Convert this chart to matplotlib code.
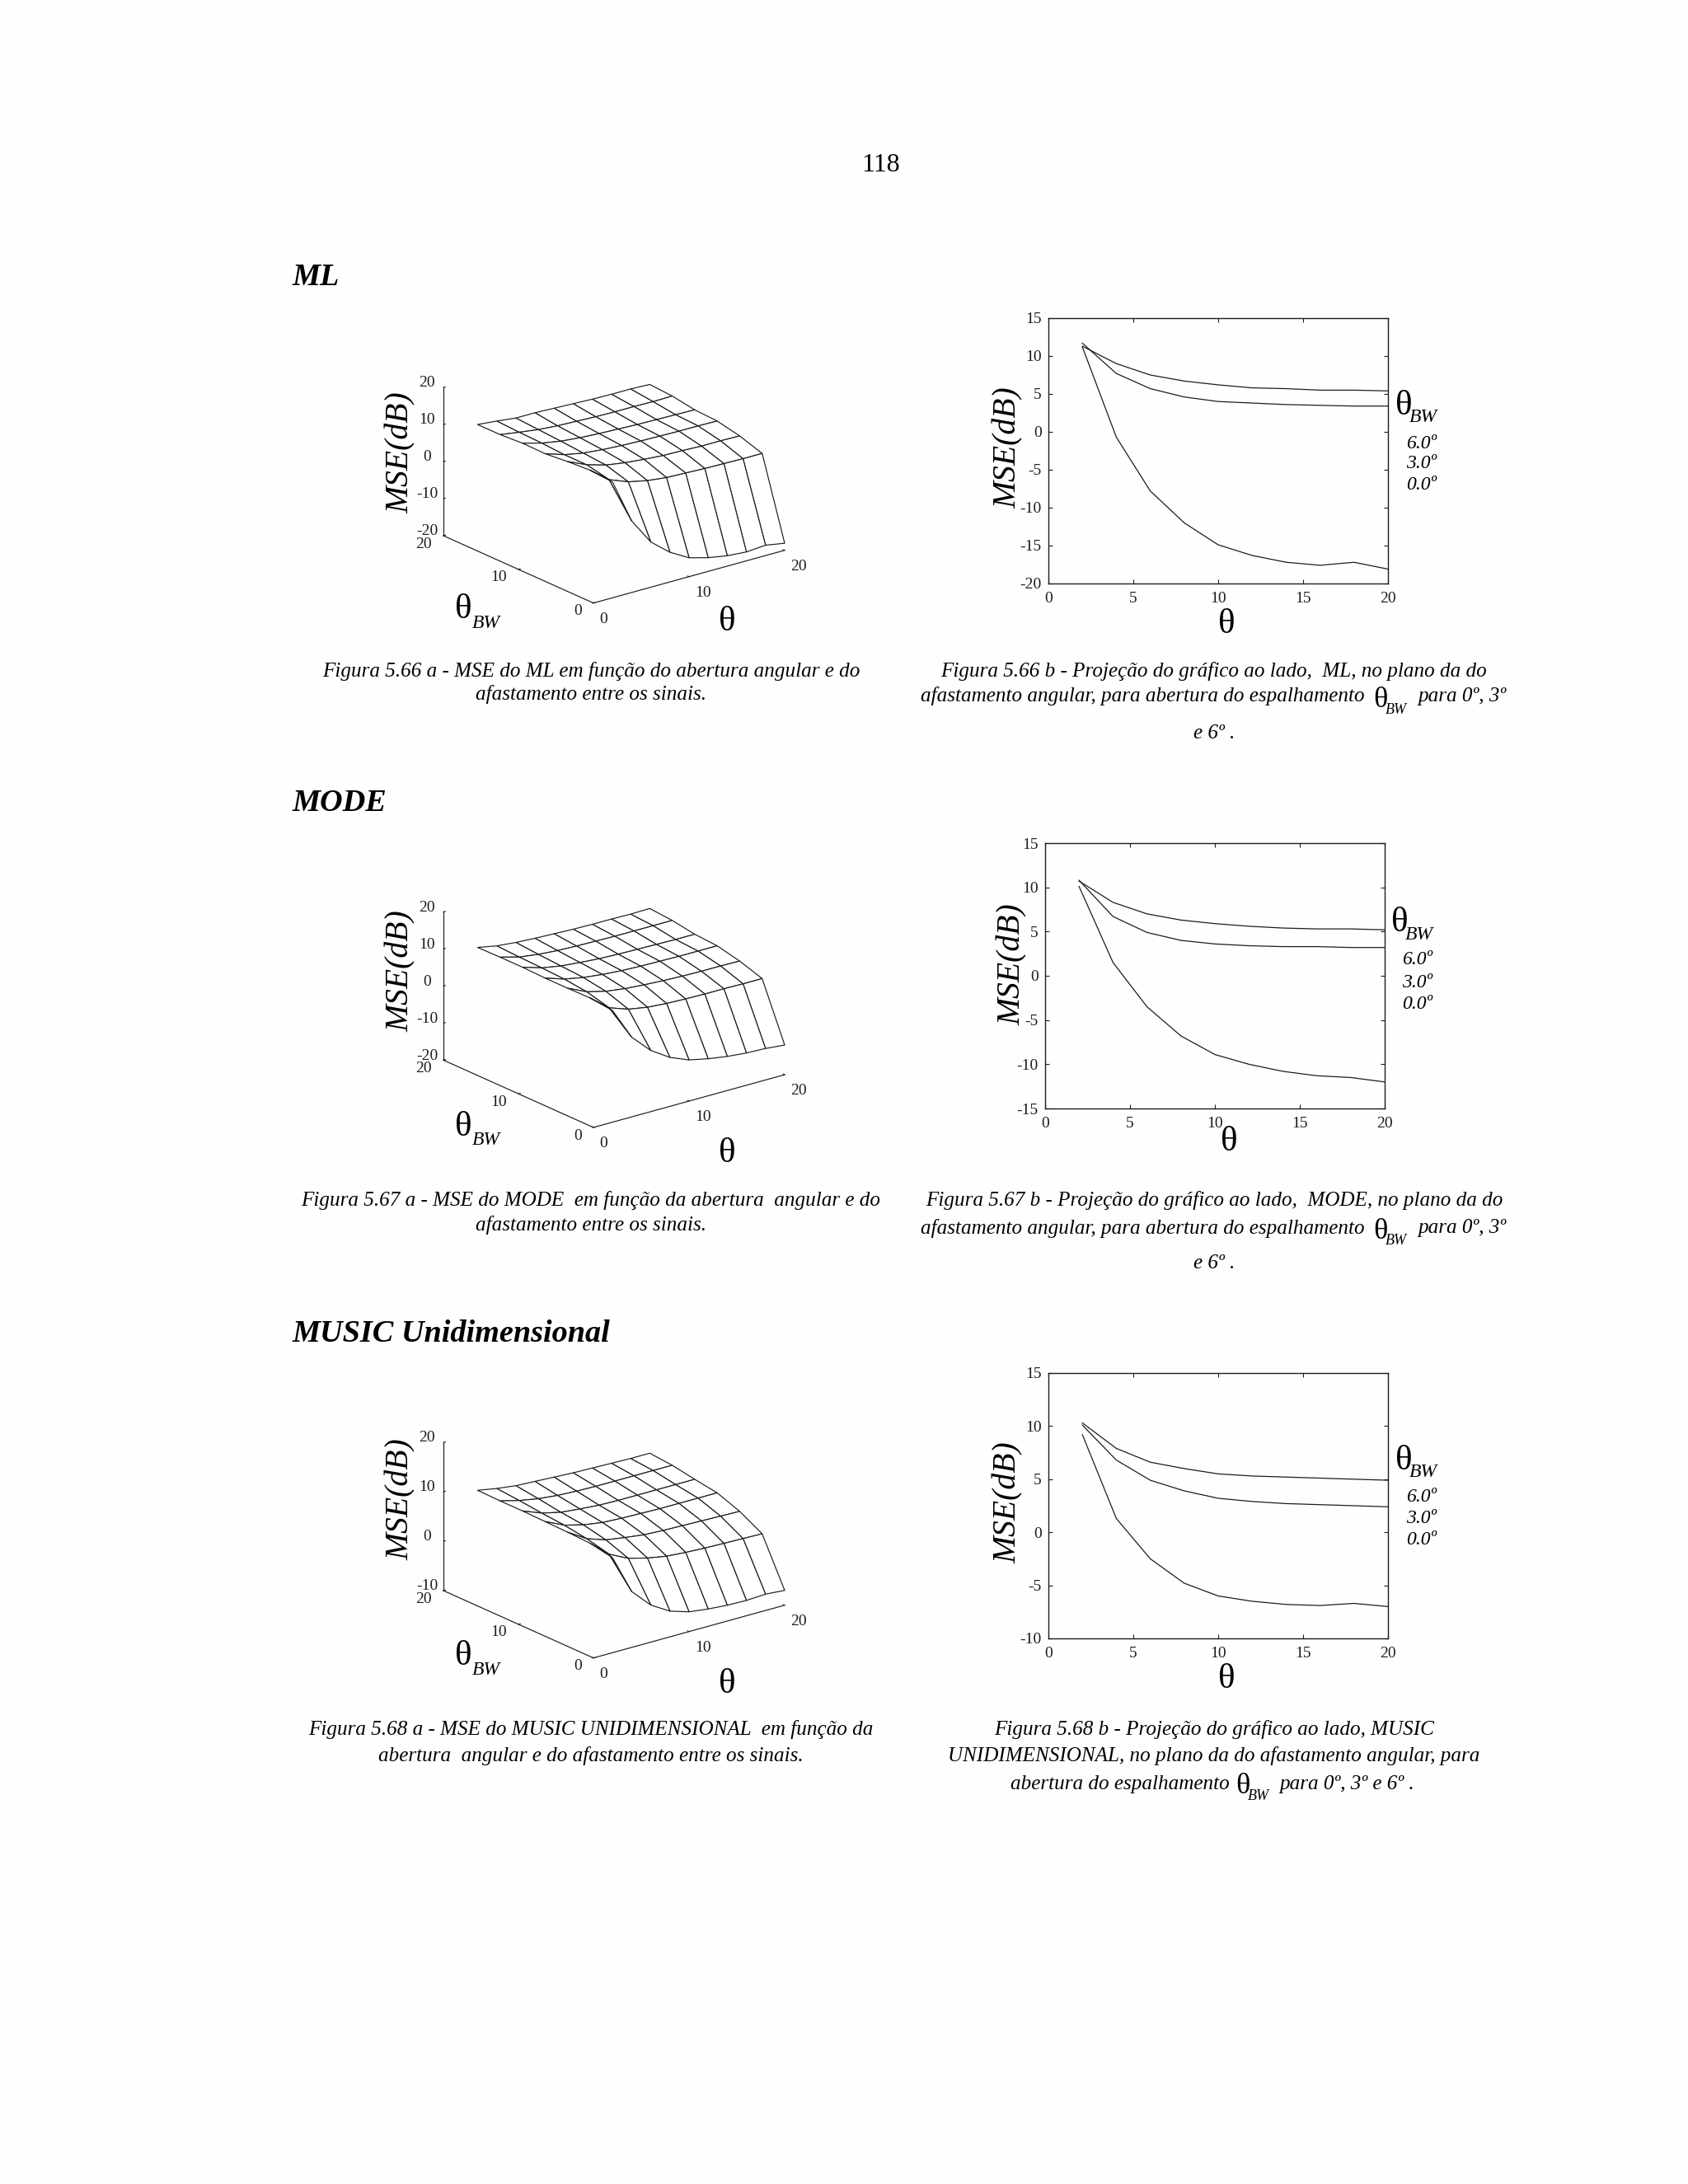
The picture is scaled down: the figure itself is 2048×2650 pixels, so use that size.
import matplotlib
matplotlib.use('Agg')
import numpy as np
import matplotlib.pyplot as plt
from mpl_toolkits.mplot3d import proj3d

W, H = 2048, 2650
SERIF = 'Liberation Serif'
LINE = '#1c1c1c'

theta = [2, 4, 6, 8, 10, 12, 14, 16, 18, 20]
bw = [0, 3, 6, 9, 12, 15, 18]

# ML
ml_bw0 = [11.2, -0.7, -7.8, -12.0, -14.9, -16.3, -17.2, -17.6, -17.2, -18.1]
ml_bw3 = [11.7, 7.7, 5.7, 4.6, 4.0, 3.8, 3.6, 3.5, 3.4, 3.4]
ml_bw6 = [11.3, 9.0, 7.5, 6.7, 6.2, 5.8, 5.7, 5.5, 5.5, 5.4]
ml_bw9 = [10.7, 9.0, 8.0, 7.5, 7.2, 7.0, 6.9, 6.8, 6.8, 6.7]
ml_bw12 = [10.8, 9.4, 8.5, 8.0, 7.7, 7.5, 7.3, 7.2, 7.1, 7.0]
ml_bw15 = [10.4, 9.6, 8.9, 8.5, 8.3, 8.1, 8.0, 8.0, 7.9, 8.0]
ml_bw18 = [10.4, 9.9, 9.3, 9.3, 9.1, 8.9, 8.7, 8.6, 8.6, 8.4]

# MODE
mode_bw0 = [10.1, 1.5, -3.5, -6.8, -8.9, -10.0, -10.8, -11.3, -11.5, -12.0]
mode_bw3 = [10.8, 6.7, 4.9, 4.0, 3.6, 3.4, 3.3, 3.3, 3.2, 3.2]
mode_bw6 = [10.7, 8.3, 7.0, 6.3, 5.9, 5.6, 5.4, 5.3, 5.3, 5.2]
mode_bw9 = [10.7, 9.0, 8.0, 7.4, 7.0, 6.8, 6.7, 6.6, 6.6, 6.6]
mode_bw12 = [10.9, 9.3, 8.4, 7.9, 7.5, 7.3, 7.2, 7.1, 7.0, 7.0]
mode_bw15 = [10.9, 9.5, 8.8, 8.4, 8.2, 8.1, 8.0, 8.0, 8.0, 8.0]
mode_bw18 = [10.8, 9.8, 9.3, 9.0, 8.8, 8.6, 8.5, 8.5, 8.4, 8.5]

# MUSIC
music_bw0 = [9.2, 1.3, -2.5, -4.8, -6.0, -6.5, -6.8, -6.9, -6.7, -7.0]
music_bw3 = [10.1, 6.8, 4.9, 3.9, 3.2, 2.9, 2.7, 2.6, 2.5, 2.4]
music_bw6 = [10.3, 7.9, 6.6, 6.0, 5.5, 5.3, 5.2, 5.1, 5.0, 4.9]
music_bw9 = [10.4, 8.6, 7.6, 7.0, 6.8, 6.7, 6.6, 6.6, 6.6, 6.6]
music_bw12 = [10.5, 9.0, 8.1, 7.7, 7.4, 7.3, 7.3, 7.3, 7.3, 7.3]
music_bw15 = [10.5, 9.5, 8.8, 8.4, 8.2, 8.1, 8.1, 8.1, 8.1, 8.1]
music_bw18 = [10.6, 9.9, 9.4, 9.2, 9.0, 8.8, 8.7, 8.6, 8.5, 8.5]

ml_rows = [ml_bw0, ml_bw3, ml_bw6, ml_bw9, ml_bw12, ml_bw15, ml_bw18]
mode_rows = [mode_bw0, mode_bw3, mode_bw6, mode_bw9, mode_bw12, mode_bw15, mode_bw18]
music_rows = [music_bw0, music_bw3, music_bw6, music_bw9, music_bw12, music_bw15, music_bw18]

ml_zticks = [-20, -10, 0, 10, 20]
mode_zticks = [-20, -10, 0, 10, 20]
music_zticks = [-10, 0, 10, 20]
ml_yticks = [-20, -15, -10, -5, 0, 5, 10, 15]
mode_yticks = [-15, -10, -5, 0, 5, 10, 15]
music_yticks = [-10, -5, 0, 5, 10, 15]

bw_labels = ['6.0º', '3.0º', '0.0º']

plt.rcParams['font.family'] = [SERIF, 'DejaVu Serif']
plt.rcParams['axes.unicode_minus'] = False
fig = plt.figure(figsize=(W / 100, H / 100), dpi=100, facecolor='#fefefe')


def put(x, y, s, size=18, style='normal', weight='normal', ha='center', va='center', rot=0):
    fig.text(x / W, 1 - y / H, s, fontsize=size, style=style, weight=weight,
             ha=ha, va=va, rotation=rot)


def to_px(ax, x, y, z):
    xs, ys, _ = proj3d.proj_transform(x, y, z, ax.get_proj())
    return ax.transData.transform((xs, ys))


def surf(rows, zticks, ox, oy, length):
    s = 500
    ax = fig.add_axes([0.3, 0.3, s / W, s / H], projection='3d', proj_type='ortho')
    ax.view_init(elev=20.6, azim=-128.1)
    ax.set_box_aspect((1, 1, 0.652))
    ax.set_xlim(0, 20, view_margin=0)
    ax.set_ylim(0, 20, view_margin=0)
    ax.set_zlim(zticks[0], zticks[-1], view_margin=0)
    ax.patch.set_alpha(0)

    # scale and shift the axes until the box corner lands where it should
    ax.apply_aspect()
    p0 = to_px(ax, 0, 0, zticks[0])
    p1 = to_px(ax, 20, 0, zticks[0])
    s = s * length / (p1[0] - p0[0])
    ax.set_position([0.3, 0.3, s / W, s / H])
    ax.apply_aspect()
    p0 = to_px(ax, 0, 0, zticks[0])
    ax.set_position([0.3 + (ox - p0[0]) / W, 0.3 + ((H - oy) - p0[1]) / H, s / W, s / H])

    X, Y = np.meshgrid(theta, bw)
    ax.plot_surface(X, Y, np.array(rows), color='white', edgecolor=LINE, linewidth=0.85,
                    shade=False, rstride=1, cstride=1, antialiased=True)

    ax.grid(False)
    ax.set_xticks([0, 10, 20])
    ax.set_yticks([0, 10, 20])
    ax.set_zticks(zticks)
    for a in (ax.xaxis, ax.yaxis, ax.zaxis):
        a.set_pane_color((1, 1, 1, 0))
        a.pane.set_edgecolor((1, 1, 1, 0))
        a.line.set_color(LINE)
        a.line.set_linewidth(0.85)
        a._axinfo['tick']['inward_factor'] = 0
        a._axinfo['tick']['outward_factor'] = 0.12
        a._axinfo['tick']['linewidth'] = {True: 0.8, False: 0.5}
    ax.tick_params(axis='both', labelsize=14, colors=LINE, length=3)
    ax.tick_params(axis='x', pad=-1)
    ax.tick_params(axis='y', pad=2)
    ax.tick_params(axis='z', pad=0)
    for lab in ax.xaxis.get_ticklabels():
        lab.set_ha('left')
    for lab in ax.yaxis.get_ticklabels():
        lab.set_ha('right')
        lab.set_va('baseline')
    for lab in ax.zaxis.get_ticklabels():
        lab.set_va('baseline')
    return ax


def proj(rows, yticks, box, xt=(0, 5, 10, 15, 20)):
    l, t, r, b = box
    ax = fig.add_axes([l / W, 1 - b / H, (r - l) / W, (b - t) / H])
    ax.patch.set_alpha(0)
    for row in rows:
        ax.plot(theta, row, color=LINE, lw=0.9)
    ax.set_xlim(0, 20)
    ax.set_ylim(yticks[0], yticks[-1])
    ax.set_xticks(list(xt))
    ax.set_yticks(yticks)
    ax.tick_params(direction='in', top=True, right=True, length=3.5, width=0.8,
                   labelsize=14, colors=LINE)
    ax.tick_params(axis='x', pad=7)
    ax.tick_params(axis='y', pad=6)
    for sp in ax.spines.values():
        sp.set_linewidth(1.0)
        sp.set_color(LINE)
    return ax


def theta_bw(x, y, big=31, small=17, dx=28, dy=16):
    put(x, y, 'θ', size=big)
    put(x + dx, y + dy, 'BW', size=small, style='italic')


# panels
surf(ml_rows, ml_zticks, 720, 731.7, 232)
surf(mode_rows, mode_zticks, 720, 1368, 232)
surf(music_rows, music_zticks, 720, 2011.7, 232)

proj(ml_rows[:3], ml_yticks, (1272, 386, 1684, 708))
proj(mode_rows[:3], mode_yticks, (1268, 1023, 1680, 1345))
proj(music_rows[:3], music_yticks, (1272, 1666, 1684, 1988))

# axis labels, left column
for my, ty, by in [(549, 740, 755), (1178, 1368, 1400), (1819, 2010, 2044)]:
    put(486, my, 'MSE(dB)', size=28.5, style='italic', rot=90)
    theta_bw(562, ty)
    put(882, by, 'θ', size=31)

# axis labels, right column
right = [(1223, 543, 1488, 758, 1703, 493, 538, 563, 589),
         (1228, 1170, 1491, 1386, 1698, 1120, 1164, 1192, 1218),
         (1223, 1823, 1488, 2038, 1703, 1773, 1817, 1843, 1869)]
for mx, my, tx, ty, bx, by, l6, l3, l0 in right:
    put(mx, my, 'MSE(dB)', size=28.5, style='italic', rot=90)
    put(tx, ty, 'θ', size=31)
    theta_bw(bx, by, dx=24, dy=14)
    for yy, lab in zip((l6, l3, l0), bw_labels):
        put(bx + 22, yy, lab, size=17, style='italic')

# page text
put(1069, 200, '118', size=23)
put(355, 337, 'ML', size=27.5, style='italic', weight='bold', ha='left')
put(355, 975, 'MODE', size=27.5, style='italic', weight='bold', ha='left')
put(355, 1619, 'MUSIC Unidimensional', size=27.5, style='italic', weight='bold', ha='left')

cap = dict(size=18.1, style='italic')
put(717, 814, 'Figura 5.66 a - MSE do ML em função do abertura angular e do', **cap)
put(717, 843, 'afastamento entre os sinais.', **cap)
put(717, 1456, 'Figura 5.67 a - MSE do MODE  em função da abertura  angular e do', **cap)
put(717, 1486, 'afastamento entre os sinais.', **cap)
put(717, 2099, 'Figura 5.68 a - MSE do MUSIC UNIDIMENSIONAL  em função da', **cap)
put(717, 2130, 'abertura  angular e do afastamento entre os sinais.', **cap)

put(1473, 814, 'Figura 5.66 b - Projeção do gráfico ao lado,  ML, no plano da do', **cap)
put(1473, 1456, 'Figura 5.67 b - Projeção do gráfico ao lado,  MODE, no plano da do', **cap)
put(1473, 2099, 'Figura 5.68 b - Projeção do gráfico ao lado, MUSIC', **cap)
put(1473, 2130, 'UNIDIMENSIONAL, no plano da do afastamento angular, para', **cap)

for y in (845, 1490):
    put(1117, y, 'afastamento angular, para abertura do espalhamento', ha='left', **cap)
    theta_bw(1675, y + 4, big=26, small=13, dx=19, dy=12)
    put(1720, y, 'para 0º, 3º', ha='left', **cap)
put(1473, 890, 'e 6º .', **cap)
put(1473, 1533, 'e 6º .', **cap)
put(1226, 2165, 'abertura do espalhamento', ha='left', **cap)
theta_bw(1508, 2168, big=26, small=13, dx=19, dy=12)
put(1552, 2165, 'para 0º, 3º e 6º .', ha='left', **cap)

fig.savefig('out.png', dpi=100, facecolor=fig.get_facecolor())
